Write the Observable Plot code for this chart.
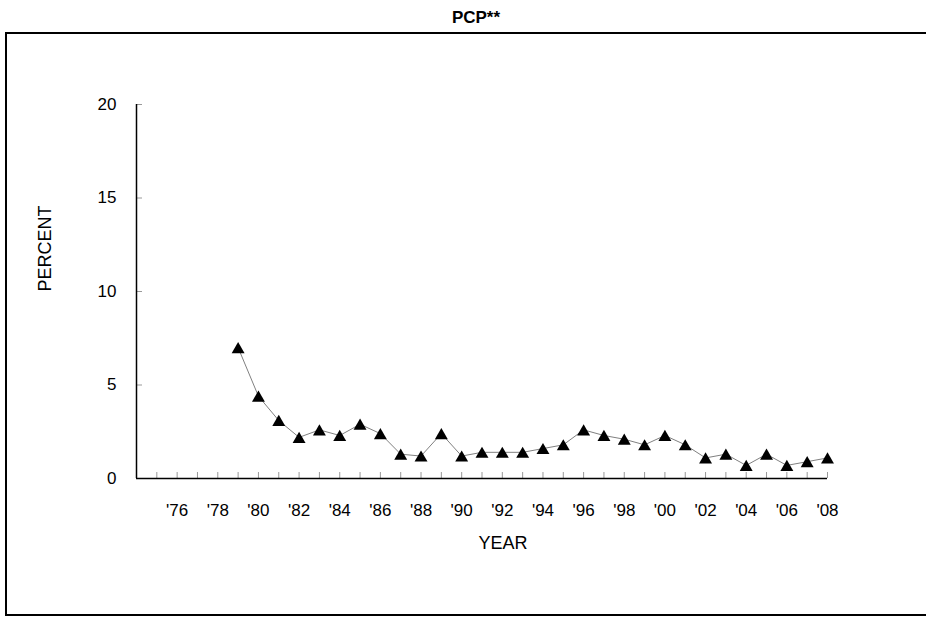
<!DOCTYPE html>
<html><head><meta charset="utf-8">
<script src="https://cdn.jsdelivr.net/npm/d3@7"></script>
<script src="https://cdn.jsdelivr.net/npm/@observablehq/plot@0.6"></script>
<style>
body{margin:0;background:#fff;font-family:Arial,"Liberation Sans",sans-serif;}
#wrap{position:relative;width:926px;height:617px;overflow:hidden;background:#fff;}
#title{position:absolute;left:0;top:0;width:952px;height:33px;text-align:center;font-weight:bold;font-size:17px;line-height:36px;color:#000;font-family:Arial,"Liberation Sans",sans-serif;}
#frame{position:absolute;left:5px;top:32px;width:960px;height:580px;border-style:solid;border-color:#000;border-width:2px 0 2px 2px;pointer-events:none;}
#chart{position:absolute;left:0;top:33px;}
</style></head>
<body>
<div id="wrap">
  <div id="title">PCP**</div>
  <div id="chart"></div>
  <div id="frame"></div>
</div>
<script>
const years = [1979,1980,1981,1982,1983,1984,1985,1986,1987,1988,1989,1990,1991,1992,1993,1994,1995,1996,1997,1998,1999,2000,2001,2002,2003,2004,2005,2006,2007,2008];
const percent = [7.0,4.4,3.1,2.2,2.6,2.3,2.9,2.4,1.3,1.2,2.4,1.2,1.4,1.4,1.4,1.6,1.8,2.6,2.3,2.1,1.8,2.3,1.8,1.1,1.3,0.7,1.3,0.7,0.9,1.1];
const yTicks = [0,5,10,15,20];
const xTickYears = d3.range(1975, 2009);
const xLabelYears = d3.range(1976, 2009, 2);
const xTitle = ["YEAR"];
const yTitle = ["PERCENT"];

const data = years.map((y,i) => ({year: y, value: percent[i]}));

const W = 926, H = 584;
const mL = 136, mR = 99, mT = 71, mB = 139;
const fw = W - mL - mR, fh = H - mT - mB;

const chart = Plot.plot({
  width: W, height: H,
  marginLeft: mL, marginRight: mR, marginTop: mT, marginBottom: mB,
  style: {fontFamily: "Arial, 'Liberation Sans', sans-serif", background: "transparent", color: "#000"},
  x: {domain: [1974, 2008]},
  y: {domain: [0, 20]},
  marks: [
    Plot.axisY({ticks: yTicks, tickSize: 0, tickPadding: 20, fontSize: 17, label: null}),
    Plot.axisX({ticks: xLabelYears, tickSize: 0, tickPadding: 25, fontSize: 17, label: null,
      tickFormat: d => "'" + String(d % 100).padStart(2, "0")}),
    Plot.tickX(xTickYears, {x: d => d, insetTop: fh - 6, stroke: "#999", strokeWidth: 1}),
    Plot.tickY(yTicks, {y: d => d, insetRight: fw - 6, stroke: "#999", strokeWidth: 1}),
    Plot.ruleX([1974], {stroke: "#000", strokeWidth: 1.5}),
    Plot.ruleY([0], {stroke: "#000", strokeWidth: 1.5}),
    Plot.line(data, {x: "year", y: "value", stroke: "#808080", strokeWidth: 1}),
    Plot.dot(data, {x: "year", y: "value", symbol: "triangle", r: 4.8, fill: "#000", stroke: "none", dy: 1.8}),
    Plot.text(xTitle, {text: d => d, frameAnchor: "bottom", dx: 21, dy: 70, fontSize: 18}),
    Plot.text(yTitle, {text: d => d, frameAnchor: "left", rotate: -90, dx: -91, dy: 0, fontSize: 18})
  ]
});
document.getElementById("chart").appendChild(chart);
</script>
</body></html>
